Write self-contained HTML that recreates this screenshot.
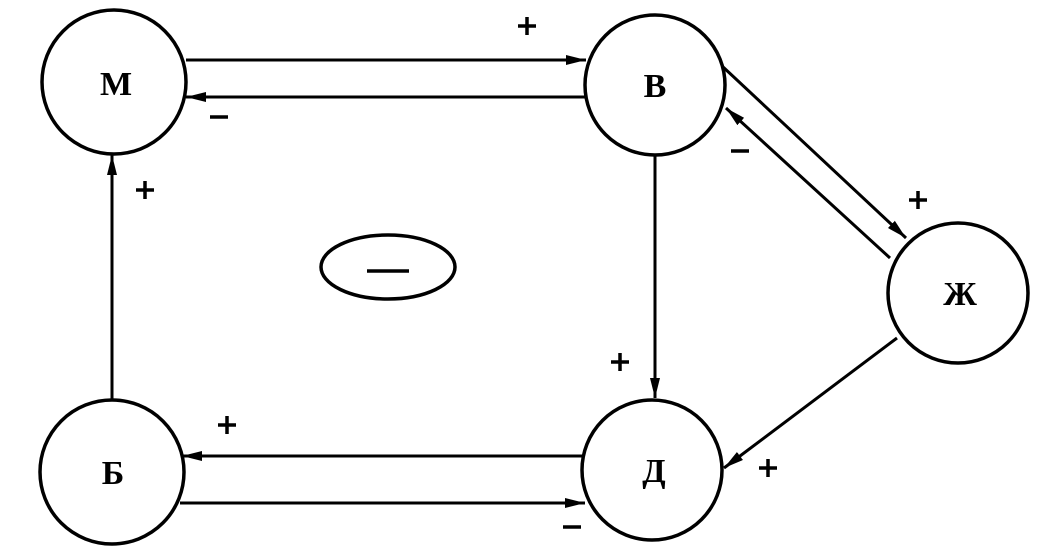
<!DOCTYPE html>
<html><head><meta charset="utf-8"><style>
html,body{margin:0;padding:0;background:#fff;}
svg{display:block;}
text{font-family:"Liberation Serif",serif;font-weight:bold;fill:#000;}
</style></head><body>
<svg width="1048" height="553" viewBox="0 0 1048 553" xmlns="http://www.w3.org/2000/svg">
<defs>
<marker id="a" viewBox="0 0 20 10" refX="20" refY="5" markerWidth="20" markerHeight="10" markerUnits="userSpaceOnUse" orient="auto">
<path d="M0,0 L20,5 L0,10 z" fill="#000"/>
</marker>
</defs>
<g fill="none" stroke="#000" stroke-width="3.5">
<circle cx="114" cy="82" r="72"/>
<circle cx="655" cy="85" r="70"/>
<circle cx="958" cy="293" r="70"/>
<circle cx="112" cy="472" r="72"/>
<circle cx="652" cy="470" r="70"/>
<ellipse cx="388" cy="267" rx="67" ry="32"/>
</g>
<g stroke="#000" stroke-width="3" fill="none">
<line x1="186" y1="60" x2="586" y2="60" marker-end="url(#a)"/>
<line x1="585" y1="97" x2="186" y2="97" marker-end="url(#a)"/>
<line x1="655" y1="155" x2="655" y2="398" marker-end="url(#a)"/>
<line x1="112" y1="400" x2="112" y2="155" marker-end="url(#a)"/>
<line x1="582" y1="456" x2="182" y2="456" marker-end="url(#a)"/>
<line x1="180" y1="503" x2="585" y2="503" marker-end="url(#a)"/>
<line x1="722" y1="66" x2="906" y2="238" marker-end="url(#a)"/>
<line x1="890" y1="258" x2="726" y2="108" marker-end="url(#a)"/>
<line x1="897" y1="338" x2="724" y2="468" marker-end="url(#a)"/>
</g>
<g font-size="34" text-anchor="middle">
<text x="116" y="95">М</text>
<text x="655" y="97">В</text>
<text x="960" y="305">Ж</text>
<text x="113" y="484">Б</text>
<text x="654" y="482">Д</text>
</g>
<g stroke="#000" stroke-width="3.5" fill="none">
<path d="M518,26h18M527,17v18"/>
<path d="M136,190h18M145,181v18"/>
<path d="M909,200h18M918,191v18"/>
<path d="M611,362h18M620,353v18"/>
<path d="M218,425h18M227,416v18"/>
<path d="M759,468h18M768,459v18"/>
<line x1="210" y1="117" x2="228" y2="117"/>
<line x1="731" y1="151" x2="749" y2="151"/>
<line x1="563" y1="527" x2="581" y2="527"/>
<line x1="367" y1="271" x2="409" y2="271"/>
</g>
</svg>
</body></html>
